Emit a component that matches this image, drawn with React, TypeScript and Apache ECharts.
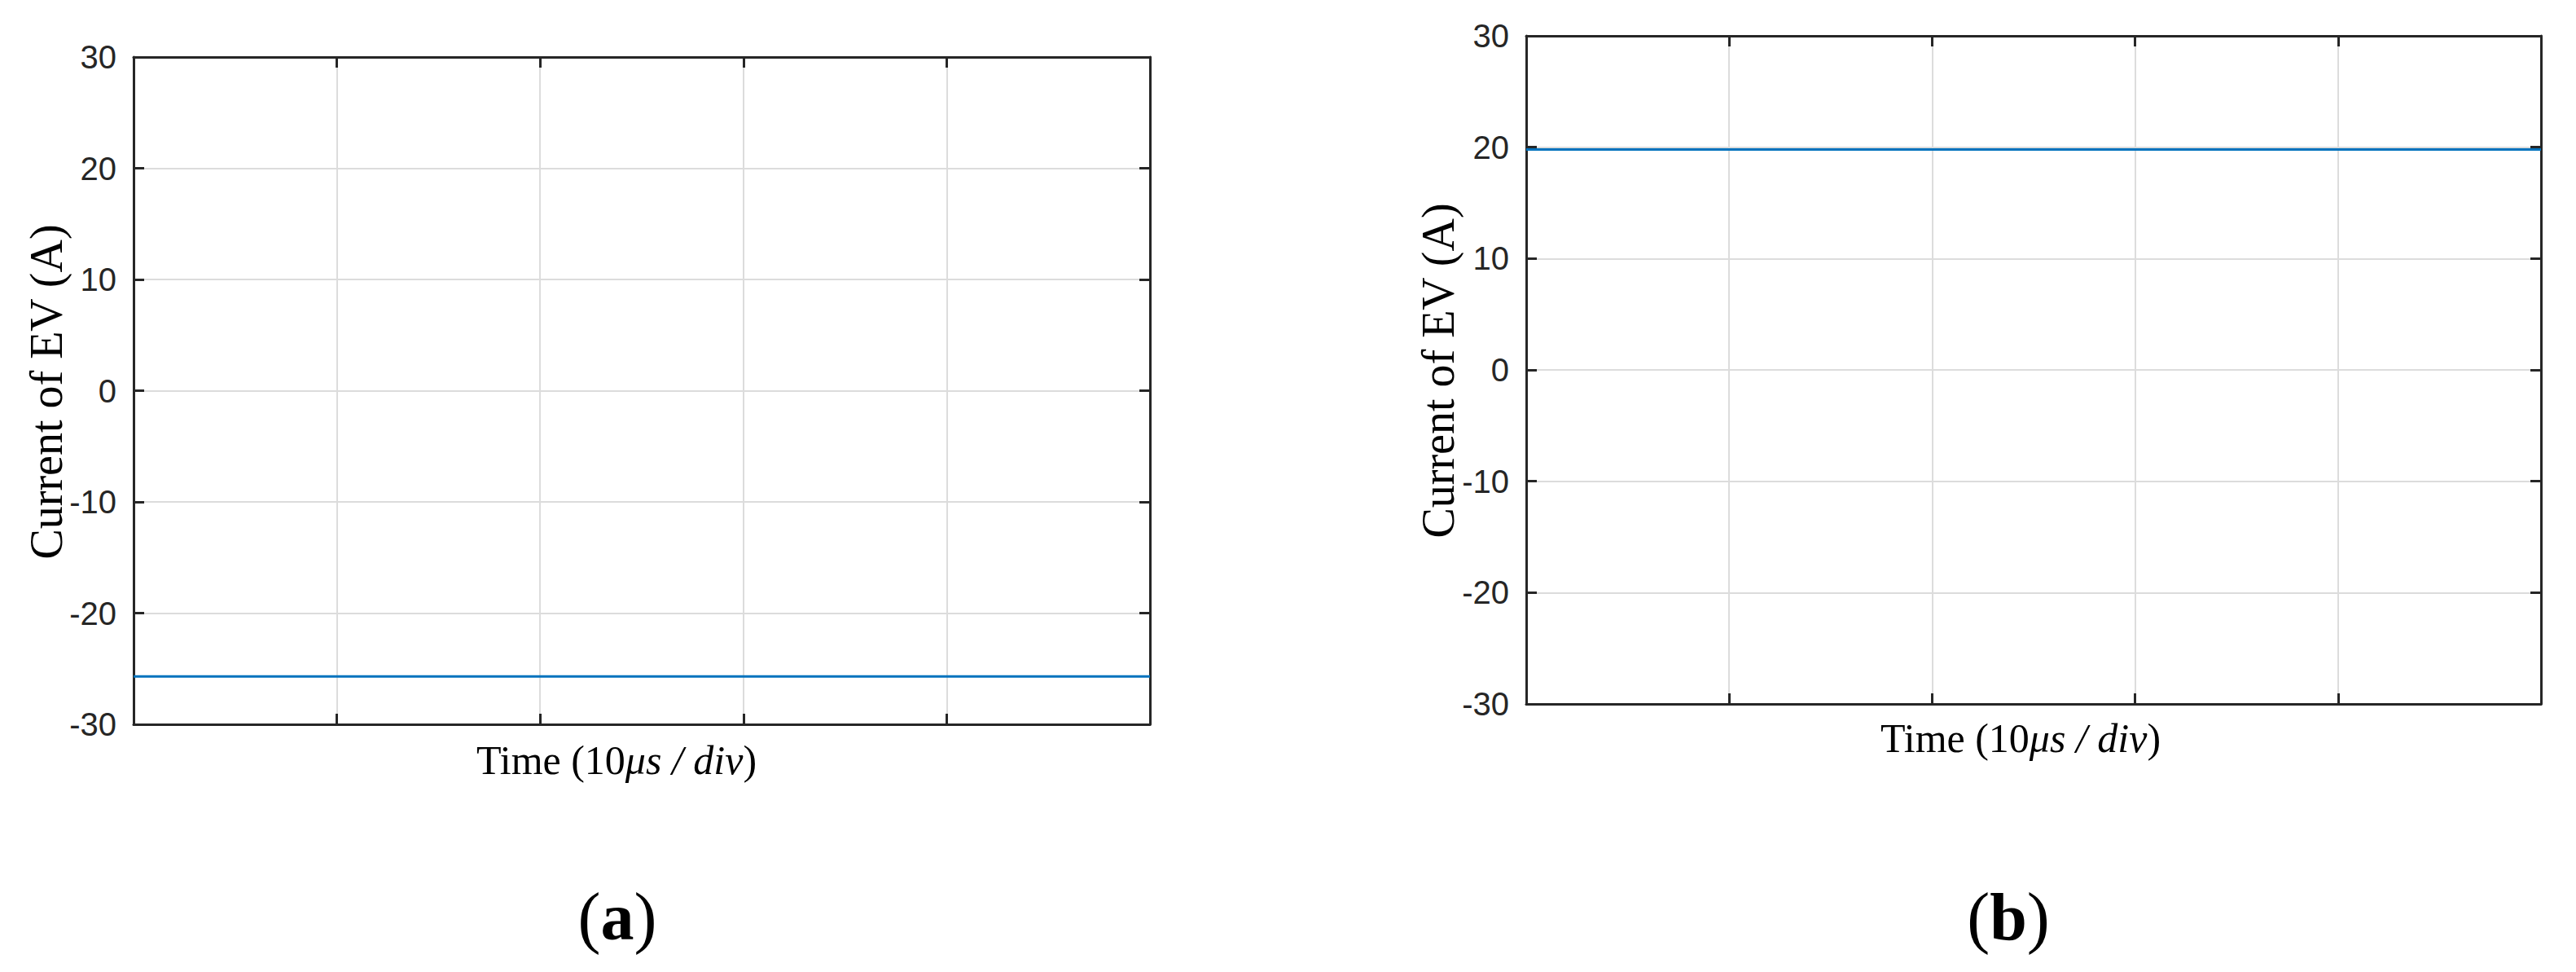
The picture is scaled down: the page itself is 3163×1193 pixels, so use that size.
import React, { useEffect, useRef } from "react";
import * as echarts from "echarts";

const timeDivs = [0, 1, 2, 3, 4, 5];
const currentA = [-25.7, -25.7, -25.7, -25.7, -25.7, -25.7];
const currentB = [19.8, 19.8, 19.8, 19.8, 19.8, 19.8];
const yMin = -30;
const yMax = 30;
const yStep = 10;
const yTitle = "Current of EV (A)";
const panelLabels = ["a", "b"];

const AXIS = "#262626";
const GRID = "#dcdcdc";
const BLUE = "#0072BD";
const SANS = "'Liberation Sans', Arial, Helvetica, sans-serif";
const SERIF = "'Liberation Serif', 'Times New Roman', Times, serif";

function xAxes(gridIndex: number) {
  const base = {
    type: "value",
    gridIndex,
    min: 0,
    max: 5,
    interval: 1,
    axisLabel: { show: false },
    axisLine: { show: true, onZero: false, lineStyle: { color: AXIS, width: 3 } },
    axisTick: { show: true, inside: true, length: 13, lineStyle: { color: AXIS, width: 3 } },
  };
  return [
    {
      ...base,
      position: "bottom",
      splitLine: { show: true, showMinLine: false, showMaxLine: false, lineStyle: { color: GRID, width: 2 } },
    },
    { ...base, position: "top", splitLine: { show: false } },
  ];
}

function yAxes(gridIndex: number) {
  const base = {
    type: "value",
    gridIndex,
    min: yMin,
    max: yMax,
    interval: yStep,
    axisLine: { show: true, onZero: false, lineStyle: { color: AXIS, width: 3 } },
    axisTick: { show: true, inside: true, length: 13, lineStyle: { color: AXIS, width: 3 } },
  };
  return [
    {
      ...base,
      position: "left",
      axisLabel: { show: true, color: AXIS, fontFamily: SANS, fontSize: 40, margin: 21 },
      splitLine: { show: true, showMinLine: false, showMaxLine: false, lineStyle: { color: GRID, width: 2 } },
    },
    { ...base, position: "right", axisLabel: { show: false }, splitLine: { show: false } },
  ];
}

function xTitle(x: number, y: number) {
  return {
    type: "text",
    x,
    y,
    style: {
      text: "{n|Time (10}{i|μs / div}{n|)}",
      align: "center",
      verticalAlign: "middle",
      rich: {
        n: { fontFamily: SERIF, fontSize: 50, fill: "#000" },
        i: { fontFamily: SERIF, fontSize: 50, fontStyle: "italic", fill: "#000" },
      },
    },
  };
}

function yTitleG(x: number, y: number) {
  return {
    type: "text",
    x,
    y,
    rotation: Math.PI / 2,
    style: {
      text: yTitle,
      align: "center",
      verticalAlign: "middle",
      fontFamily: SERIF,
      fontSize: 56,
      fill: "#000",
    },
  };
}

function panelLabel(x: number, y: number, letter: string) {
  return {
    type: "text",
    x,
    y,
    style: {
      text: "{p|(}{b|" + letter + "}{p|)}",
      align: "center",
      verticalAlign: "middle",
      rich: {
        p: { fontFamily: SERIF, fontSize: 84, fill: "#000" },
        b: { fontFamily: SERIF, fontSize: 82, fontWeight: "bold", fill: "#000" },
      },
    },
  };
}

export default function App() {
  const ref = useRef<HTMLDivElement>(null);
  useEffect(() => {
    if (!ref.current) return;
    const chart = echarts.init(ref.current, undefined, { renderer: "svg" });
    chart.setOption({
      animation: false,
      backgroundColor: "#ffffff",
      grid: [
        { left: 164, top: 70, width: 1248, height: 819 },
        { left: 1874, top: 44, width: 1246, height: 820 },
      ],
      xAxis: [...xAxes(0), ...xAxes(1)],
      yAxis: [...yAxes(0), ...yAxes(1)],
      series: [
        {
          type: "line",
          xAxisIndex: 0,
          yAxisIndex: 0,
          data: timeDivs.map((t, i) => [t, currentA[i]]),
          showSymbol: false,
          lineStyle: { color: BLUE, width: 3 },
          z: 3,
        },
        {
          type: "line",
          xAxisIndex: 2,
          yAxisIndex: 2,
          data: timeDivs.map((t, i) => [t, currentB[i]]),
          showSymbol: false,
          lineStyle: { color: BLUE, width: 3 },
          z: 3,
        },
      ],
      graphic: [
        yTitleG(57, 481),
        yTitleG(1766, 455),
        xTitle(757, 933),
        xTitle(2481, 906),
        panelLabel(758, 1125, panelLabels[0]),
        panelLabel(2466, 1125, panelLabels[1]),
      ],
    });
    return () => chart.dispose();
  }, []);
  return (
    <div
      ref={ref}
      style={{ position: "absolute", left: 0, top: 0, width: 3163, height: 1193 }}
    />
  );
}
